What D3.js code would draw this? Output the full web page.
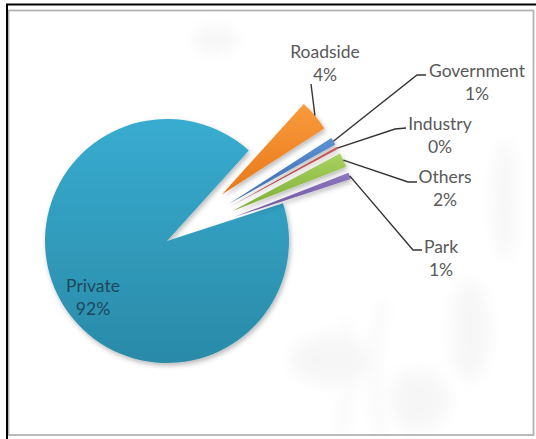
<!DOCTYPE html>
<html>
<head>
<meta charset="utf-8">
<script src="https://cdn.jsdelivr.net/npm/d3@7"></script>
<style>
  html, body { margin: 0; padding: 0; background: #ffffff; }
  svg { display: block; }
</style>
</head>
<body>
<div id="chart"></div>
<script>
// ---- data ----
const categories = ["Private", "Roadside", "Government", "Industry", "Others", "Park"];
const values = [91.7, 4.2, 1.0, 0.3, 1.9, 0.9];

// ---- styles / layout (kept separate from data) ----
const colorsTop = ["#38acd0", "#f99b3c", "#5b90d2", "#cc5a56", "#a9d25f", "#8d78c0"];
const colorsBot = ["#2a8aa8", "#e8781a", "#3b6bb0", "#a8403d", "#7fac36", "#6a529a"];
const W = 536, H = 439;
const cx = 167, cy = 241, R = 122;
const explode = [0, 72, 72, 72, 72, 72];
const startDeg = 72;
// label layout: text centre x, first baseline y, leader elbow and end points
const labelLayout = {
  Private:    { x: 93,  y: 292, inside: true },
  Roadside:   { x: 325, y: 58,  pts: [[311, 84]] },
  Government: { x: 477, y: 77,  pts: [[417, 75], [426, 75]] },
  Industry:   { x: 440, y: 130, pts: [[395, 129], [406, 128]] },
  Others:     { x: 445, y: 183, pts: [[408, 182], [417, 182]] },
  Park:       { x: 441, y: 253, pts: [[413, 250], [422, 250]] }
};
const lineH = 23;

const svg = d3.select("#chart").append("svg").attr("width", W).attr("height", H);
const defs = svg.append("defs");

// gradients
categories.forEach((c, i) => {
  const g = defs.append("linearGradient").attr("id", "g" + i)
    .attr("x1", 0).attr("y1", 0).attr("x2", 0).attr("y2", 1);
  g.append("stop").attr("offset", "0%").attr("stop-color", colorsTop[i]);
  g.append("stop").attr("offset", "100%").attr("stop-color", colorsBot[i]);
});
const sh = defs.append("filter").attr("id", "shadow").attr("x", "-20%").attr("y", "-20%").attr("width", "140%").attr("height", "140%");
sh.append("feDropShadow").attr("dx", 1.5).attr("dy", 2.5).attr("stdDeviation", 2.5)
  .attr("flood-color", "#000").attr("flood-opacity", 0.28);
const bl = defs.append("filter").attr("id", "blur").attr("x", "-50%").attr("y", "-50%").attr("width", "200%").attr("height", "200%");
bl.append("feGaussianBlur").attr("stdDeviation", 7);

// background
svg.append("rect").attr("width", W).attr("height", H).attr("fill", "#ffffff");
// faint background texture (decor)
const bg = svg.append("g").attr("filter", "url(#blur)").attr("opacity", 0.3);
const blobs = [
  [215, 40, 22, 14], [505, 200, 12, 60],
  [470, 330, 20, 50], [330, 360, 40, 25], [420, 400, 30, 30]
];
blobs.forEach(b => bg.append("ellipse").attr("cx", b[0]).attr("cy", b[1]).attr("rx", b[2]).attr("ry", b[3]).attr("fill", "#e4e4e4"));
const strokes = [[[340, 439], [350, 380], [345, 320]], [[380, 439], [372, 360], [385, 300]], [[410, 439], [402, 370]]];
strokes.forEach(s => bg.append("path").attr("d", d3.line()(s)).attr("stroke", "#e0e0e0").attr("stroke-width", 6).attr("fill", "none"));

// frame
svg.append("rect").attr("x", 8.5).attr("y", 10.5).attr("width", 525).attr("height", 424.5)
  .attr("fill", "none").attr("stroke", "#b3b3b3").attr("stroke-width", 1.8);
svg.append("line").attr("x1", 6).attr("x2", W).attr("y1", 4.5).attr("y2", 4.5).attr("stroke", "#000").attr("stroke-width", 2);
svg.append("line").attr("x1", 7).attr("x2", 7).attr("y1", 4).attr("y2", H).attr("stroke", "#000").attr("stroke-width", 2);

// pie
const pie = d3.pie().sort(null).value(d => d)
  .startAngle(startDeg * Math.PI / 180).endAngle(startDeg * Math.PI / 180 + 2 * Math.PI);
const arcs = pie(values);
const arc = d3.arc().innerRadius(0).outerRadius(R);
const total = d3.sum(values);

function offset(d, i) {
  const m = (d.startAngle + d.endAngle) / 2;
  return [explode[i] * Math.sin(m), -explode[i] * Math.cos(m)];
}

const pg = svg.append("g").attr("transform", `translate(${cx},${cy})`);
pg.selectAll("path.slice").data(arcs).join("path")
  .attr("class", "slice")
  .attr("transform", (d, i) => { const o = offset(d, i); return `translate(${o[0]},${o[1]})`; })
  .attr("d", arc)
  .attr("fill", (d, i) => `url(#g${i})`)
  .attr("filter", "url(#shadow)");

// leader lines + labels
const fontFam = "Lato, 'Open Sans', sans-serif";
arcs.forEach((d, i) => {
  const name = categories[i];
  const L = labelLayout[name];
  const pct = Math.round(values[i] / total * 100) + "%";
  if (!L.inside) {
    const m = (d.startAngle + d.endAngle) / 2;
    const o = offset(d, i);
    const sx = cx + o[0] + R * Math.sin(m), sy = cy + o[1] - R * Math.cos(m);
    const pts = [[sx, sy]].concat(L.pts);
    svg.append("path").attr("d", d3.line()(pts)).attr("fill", "none")
      .attr("stroke", "#333333").attr("stroke-width", 1.4);
  }
  const t = svg.append("text").attr("text-anchor", "middle")
    .attr("font-family", fontFam).attr("font-size", 17.5)
    .attr("fill", L.inside ? "#1c485c" : "#595959");
  t.append("tspan").attr("x", L.x).attr("y", L.y).text(name);
  t.append("tspan").attr("x", L.x).attr("y", L.y + lineH).text(pct);
});
</script>
</body>
</html>
